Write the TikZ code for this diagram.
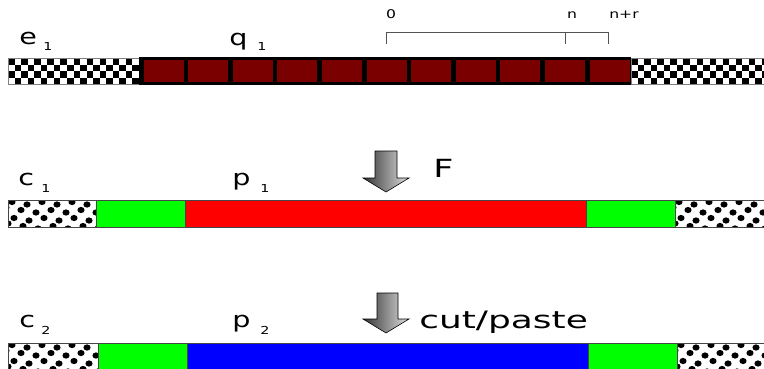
\documentclass[tikz,border=0pt]{standalone}
\usepackage{fontspec}
\setmainfont{DejaVu Sans}
\definecolor{blockred}{RGB}{122,0,0}
\definecolor{segline}{RGB}{70,70,70}
\tikzset{
  biglab/.style={font=\fontsize{22}{24}\selectfont, xscale=1.3, inner sep=0pt, anchor=base west},
  sublab/.style={font=\fontsize{11}{12}\selectfont, xscale=1.3, inner sep=0pt, anchor=base west},
  ticklab/.style={font=\fontsize{12}{13}\selectfont, xscale=1.3, inner sep=0pt, anchor=base},
  steplab/.style={font=\fontsize{25}{27}\selectfont, xscale=1.4, inner sep=0pt, anchor=base west},
  bracket/.style={draw=gray!65!black, line width=1pt},
  segment/.style={draw=segline, line width=0.8pt},
  blockarrow/.style={left color=black!80, right color=black!12, draw=black, line width=0.6pt}
}
% checkerboard band: corners (x1,y1) and (x2,y2)
\newcommand\chkstrip[4]{%
  \begin{scope}
    \clip (#1,#2) rectangle (#3,#4);
    \fill[white] (#1,#2) rectangle (#3,#4);
    \foreach \i in {0,...,21}{%
      \foreach \j in {0,...,3}{%
        \pgfmathtruncatemacro\kk{mod(\i+\j,2)}%
        \ifnum\kk=0
          \fill[black] ({#1+\i*6.55},{#2+\j*6.5}) rectangle ++(6.55,6.5);
        \fi
      }%
    }%
  \end{scope}
  \draw[gray, line width=0.6pt] (#1,#2) rectangle (#3,#4);
}
% band of scattered black dots on slanted rows
\newcommand\dotstrip[4]{%
  \begin{scope}
    \clip (#1,#2) rectangle (#3,#4);
    \fill[white] (#1,#2) rectangle (#3,#4);
    \foreach \i in {-2,...,7}{%
      \foreach \j in {0,...,3}{%
        \pgfmathsetmacro\dx{mod(\j,2)*8 + \j*1}%
        \pgfmathsetmacro\dy{mod(\i,2)*2.5}%
        \fill[black] ({#1+4+\i*15+\dx},{#2+2+\j*8+\dy}) ellipse (3.6 and 3.1);
      }%
    }%
  \end{scope}
}
\begin{document}
\begin{tikzpicture}[x=1pt,y=-1pt]
\useasboundingbox (0,0) rectangle (764,368);
\clip (0,0) rectangle (764,368);

% ---- top band: e_1 | q_1 | e_1
\chkstrip{8}{58}{139}{84}
\chkstrip{631}{58}{764}{84}
\fill[black] (139,56.5) rectangle (631,84.5);
\foreach \i in {0,...,10}{
  \fill[blockred] ({143.5+\i*44.6},59.5) rectangle ++(40,22.5);
}
\node[biglab] (e1) at (19,44) {e};
\node[sublab] (e1s) at (43,50) {1};
\node[biglab] (q1) at (229,45) {q};
\node[sublab] (q1s) at (257,50) {1};

% index bracket above the blocks
\coordinate (b0) at (386,32);
\coordinate (bn) at (565,32);
\coordinate (bnr) at (608,32);
\draw[bracket] ([yshift=-12pt]b0) -- (b0) -- (bnr) -- ([yshift=-12pt]bnr);
\draw[bracket] (bn) -- ([yshift=-12pt]bn);
\node[ticklab] (l0) at (391,18.5) {0};
\node[ticklab] (ln) at (572,18.5) {n};
\node[ticklab] (lnr) at (624,18.5) {n+r};

% ---- arrow F
\shade[blockarrow] (375,151) -- (397,151) -- (397,178) -- (409,178)
  -- (386,192) -- (363,178) -- (375,178) -- cycle;
\node[steplab] (F) at (433,177) {F};

% ---- middle band: c_1 | p_1 | c_1
\dotstrip{8}{200}{96}{227}
\dotstrip{675}{200}{764}{227}
\fill[green] (96,200) rectangle (185,227);
\fill[red] (185,200) rectangle (586,227);
\fill[green] (586,200) rectangle (675,227);
\draw[segment] (8,200) rectangle (775,227);
\foreach \x in {96,185,586,675}{ \draw[segment] (\x,200) -- (\x,227); }
\node[biglab] (c1) at (18,185) {c};
\node[sublab] (c1s) at (41,192) {1};
\node[biglab] (p1) at (232,185) {p};
\node[sublab] (p1s) at (260,192) {1};

% ---- arrow cut/paste
\shade[blockarrow] (377,293) -- (398,293) -- (398,319) -- (409,319)
  -- (386,333) -- (363,319) -- (377,319) -- cycle;
\node[steplab, font=\fontsize{24}{26}\selectfont, xscale=1.07] (cp) at (419,328) {cut/paste};

% ---- bottom band: c_2 | p_2 | c_2
\dotstrip{8}{343}{98}{372}
\dotstrip{677}{343}{764}{372}
\fill[green] (98,343) rectangle (187,372);
\fill[blue] (187,343) rectangle (588,372);
\fill[green] (588,343) rectangle (677,372);
\draw[segment] (8,343) rectangle (775,380);
\foreach \x in {98,187,588,677}{ \draw[segment] (\x,343) -- (\x,372); }
\node[biglab] (c2) at (19,327) {c};
\node[sublab] (c2s) at (41,334) {2};
\node[biglab] (p2) at (232,327) {p};
\node[sublab] (p2s) at (260,334) {2};
\end{tikzpicture}
\end{document}
